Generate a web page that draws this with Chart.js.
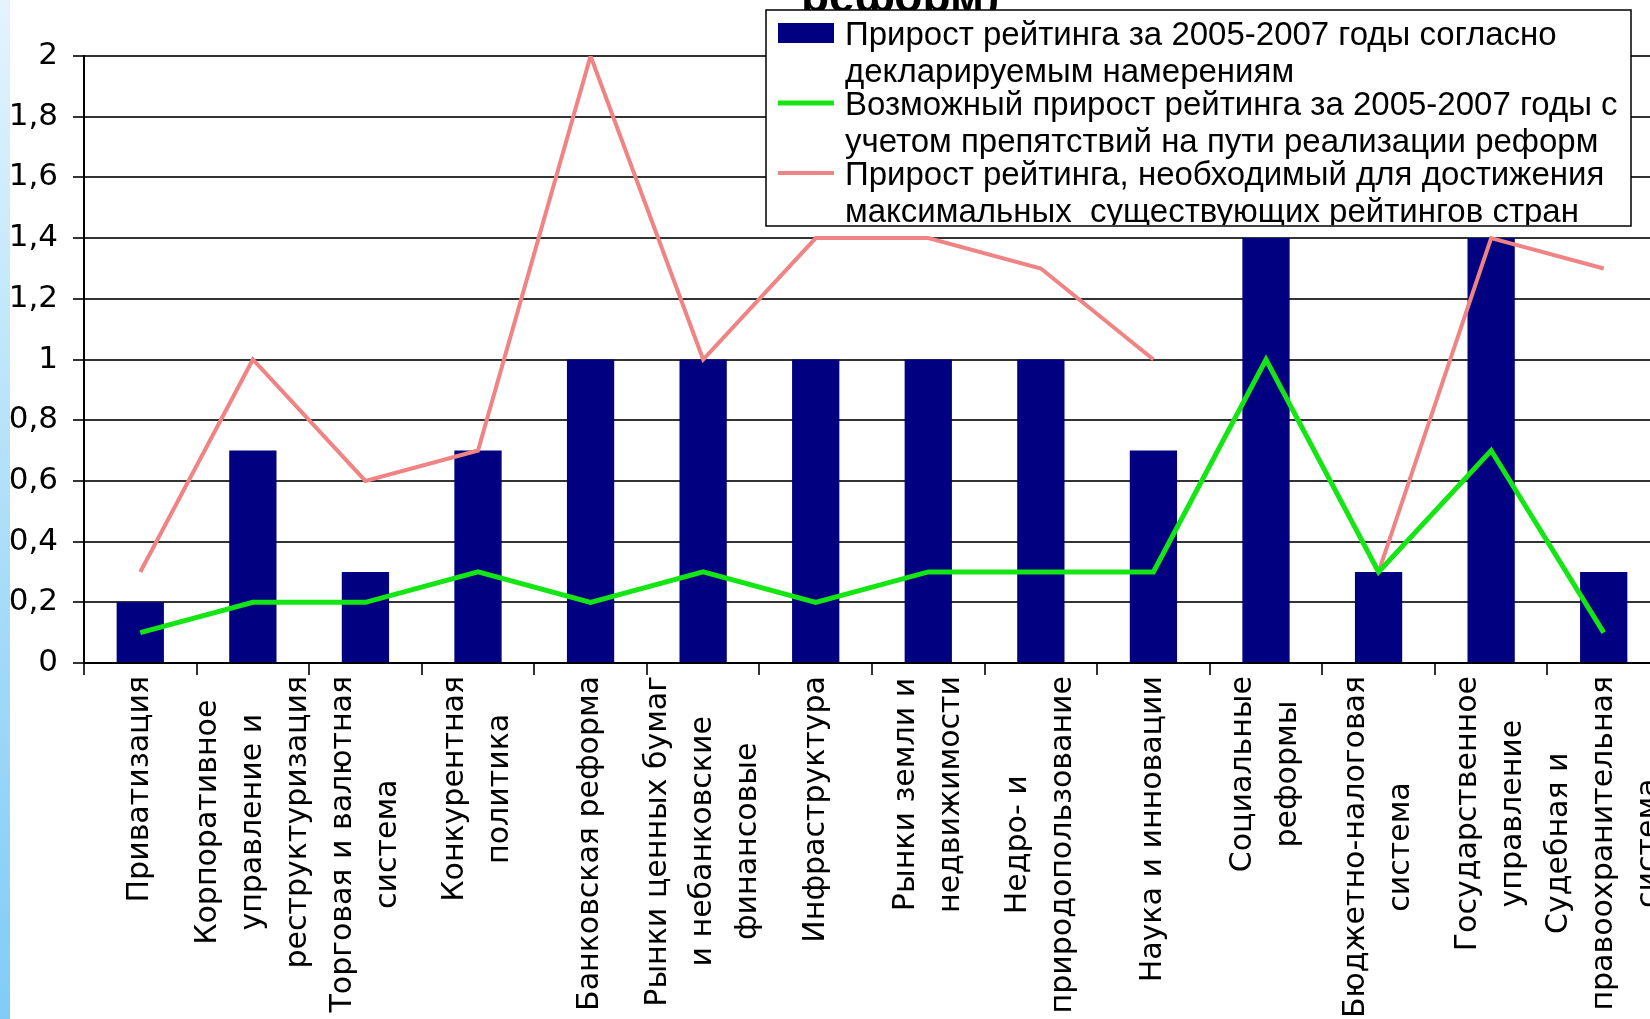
<!DOCTYPE html>
<html lang="ru">
<head>
<meta charset="utf-8">
<title>Прирост рейтинга</title>
<script src="https://cdn.jsdelivr.net/npm/chart.js@4.4.1/dist/chart.umd.min.js"></script>
<style>
html,body{margin:0;padding:0;background:#fff;overflow:hidden;}
#wrap{position:relative;width:1650px;height:1019px;overflow:hidden;}
#stripe{position:absolute;left:0;top:0;width:10px;height:1019px;background:linear-gradient(#e3f4fd,#a9ddf9 55%,#80ccf7);z-index:2;}
canvas{position:absolute;left:0;top:0;}
</style>
</head>
<body>
<div id="wrap"><div id="stripe"></div><canvas id="c" width="1660" height="1019"></canvas></div>
<script>
// ---- data ----
const categories = [
  'Приватизация',
  ['Корпоративное', 'управление и', 'реструктуризация'],
  ['Торговая и валютная', 'система'],
  ['Конкурентная', 'политика'],
  'Банковская реформа',
  ['Рынки ценных бумаг', 'и небанковские', 'финансовые'],
  'Инфраструктура',
  ['Рынки земли и', 'недвижимости'],
  ['Недро- и', 'природопользование'],
  'Наука и инновации',
  ['Социальные', 'реформы'],
  ['Бюджетно-налоговая', 'система'],
  ['Государственное', 'управление'],
  ['Судебная и', 'правоохранительная', 'система']
];
const declaredGrowth = [0.2, 0.7, 0.3, 0.7, 1.0, 1.0, 1.0, 1.0, 1.0, 0.7, 1.4, 0.3, 1.4, 0.3];
const possibleGrowth = [0.1, 0.2, 0.2, 0.3, 0.2, 0.3, 0.2, 0.3, 0.3, 0.3, 1.0, 0.3, 0.7, 0.1];
const requiredGrowth = [0.3, 1.0, 0.6, 0.7, 2.0, 1.0, 1.4, 1.4, 1.3, 1.0, null, 0.3, 1.4, 1.3];
const seriesNames = [
  ['Прирост рейтинга за 2005-2007 годы согласно', 'декларируемым намерениям'],
  ['Возможный прирост рейтинга за 2005-2007 годы с', 'учетом препятствий на пути реализации реформ'],
  ['Прирост рейтинга, необходимый для достижения', 'максимальных  существующих рейтингов стран']
];
const titleTail = 'реформ)';
const yMin = 0, yMax = 2, yStep = 0.2;

// ---- plugins ----
const centerRotatedLabels = {
  id: 'centerRotatedLabels',
  beforeDraw(chart) {
    const sc = chart.scales.x;
    const items = sc.getLabelItems();
    const ctx = chart.ctx;
    ctx.save();
    items.forEach((it, i) => {
      const lines = Array.isArray(it.label) ? it.label : [it.label];
      ctx.font = it.font.string;
      const w = Math.max(...lines.map(l => ctx.measureText(l).width));
      const lh = it.font.lineHeight;
      const px = sc.getPixelForTick(i);
      it.textOffset = 0;
      it.options.textAlign = 'center';
      it.options.textBaseline = 'middle';
      it.options.translation = [px - (lines.length - 1) * lh / 2, sc.top + 13 + w / 2];
    });
    ctx.restore();
  }
};

const boxLegend = {
  id: 'boxLegend',
  afterDraw(chart) {
    const ctx = chart.ctx;
    ctx.save();
    ctx.font = 'bold 46px "Liberation Sans", Arial, sans-serif';
    ctx.fillStyle = '#000';
    ctx.textAlign = 'left';
    ctx.textBaseline = 'alphabetic';
    ctx.fillText(titleTail, 801, 12);

    const L = 766, T = 10, R = 1631, B = 226;
    ctx.fillStyle = '#fff';
    ctx.fillRect(L, T, R - L, B - T);
    ctx.strokeStyle = '#000';
    ctx.lineWidth = 1.5;
    ctx.strokeRect(L, T, R - L, B - T);
    ctx.beginPath();
    ctx.rect(L + 1, T + 1, R - L - 2, B - T - 2);
    ctx.clip();
    ctx.font = '33px "Liberation Sans", Arial, sans-serif';
    ctx.textBaseline = 'middle';
    chart.data.datasets.forEach((ds, i) => {
      const y0 = 36 + i * 70;
      if (ds.type === 'bar') {
        ctx.fillStyle = ds.backgroundColor;
        ctx.fillRect(778, y0 - 13, 56, 20);
      } else {
        ctx.strokeStyle = ds.borderColor;
        ctx.lineWidth = ds.borderWidth;
        ctx.beginPath();
        ctx.moveTo(778, y0 - 3);
        ctx.lineTo(834, y0 - 3);
        ctx.stroke();
      }
      ctx.fillStyle = '#000';
      seriesNames[i].forEach((ln, j) => ctx.fillText(ln, 845, y0 + j * 37));
    });
    ctx.restore();
  }
};

const fmt = v => String(Math.round(v * 10) / 10).replace('.', ',');

new Chart(document.getElementById('c'), {
  data: {
    labels: categories,
    datasets: [
      { type: 'bar', label: seriesNames[0].join(' '), data: declaredGrowth, backgroundColor: '#000080',
        barPercentage: 0.42, categoryPercentage: 1.0, order: 3 },
      { type: 'line', label: seriesNames[1].join(' '), data: possibleGrowth, borderColor: '#14e614',
        borderWidth: 5, pointRadius: 0, tension: 0, order: 1 },
      { type: 'line', label: seriesNames[2].join(' '), data: requiredGrowth, borderColor: '#f08383',
        borderWidth: 4, pointRadius: 0, tension: 0, spanGaps: false, order: 2 }
    ]
  },
  options: {
    responsive: false,
    animation: false,
    devicePixelRatio: 1,
    layout: { padding: { top: 56, left: 0, right: 0, bottom: 0 } },
    plugins: { legend: { display: false }, tooltip: { enabled: false }, title: { display: false } },
    scales: {
      x: {
        grid: { drawOnChartArea: false, color: '#333', lineWidth: 2, tickLength: 12, offset: true },
        border: { color: '#000', width: 2 },
        ticks: { autoSkip: false, minRotation: 90, maxRotation: 90, color: '#000', padding: 2,
          font: { family: '"DejaVu Sans", sans-serif', size: 30, lineHeight: 1.5 } },
        afterFit(s) { s.height = 356; s.paddingLeft = 0; s.paddingRight = 0; }
      },
      y: {
        min: yMin, max: yMax,
        grid: { color: '#333', lineWidth: 2, tickLength: 11 },
        border: { color: '#000', width: 2 },
        ticks: { stepSize: yStep, callback: fmt, color: '#000', padding: 15,
          font: { family: '"DejaVu Sans", sans-serif', size: 31 } },
        afterFit(s) { s.width = 84; s.paddingTop = 0; s.paddingBottom = 0; }
      }
    }
  },
  plugins: [centerRotatedLabels, boxLegend]
});
</script>
</body>
</html>
